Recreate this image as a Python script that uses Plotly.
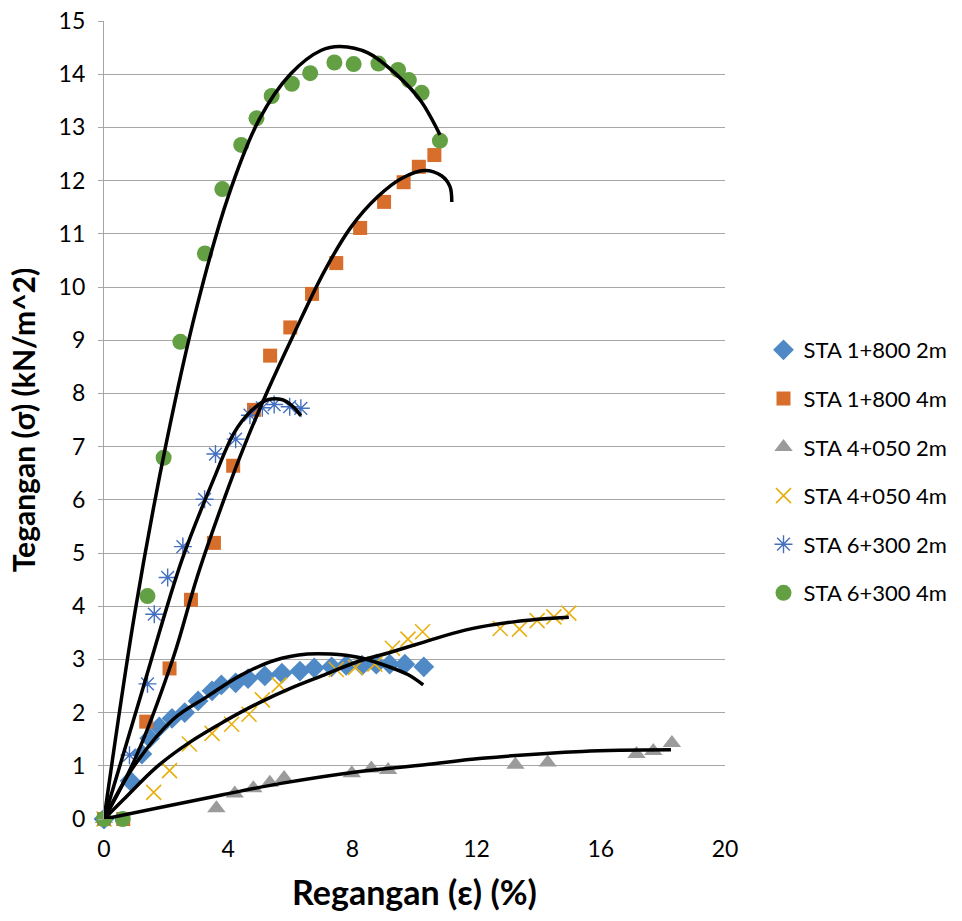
import plotly.graph_objects as go

# ---- data ----
names = ["STA 1+800 2m", "STA 1+800 4m", "STA 4+050 2m", "STA 4+050 4m", "STA 6+300 2m", "STA 6+300 4m"]

d1_x = [0, 0.84, 1.22, 1.47, 1.78, 2.19, 2.60, 3.03, 3.48, 3.78, 4.24, 4.64, 5.18, 5.73, 6.31, 6.77, 7.33, 7.80, 8.31, 8.77, 9.20, 9.69, 10.30]
d1_y = [0, 0.72, 1.22, 1.52, 1.73, 1.89, 2.00, 2.22, 2.41, 2.52, 2.56, 2.64, 2.69, 2.74, 2.78, 2.84, 2.86, 2.89, 2.89, 2.91, 2.91, 2.91, 2.86]

d2_x = [0, 0.62, 1.36, 2.11, 2.80, 3.54, 4.16, 4.83, 5.35, 6.00, 6.70, 7.48, 8.25, 9.02, 9.65, 10.14, 10.64]
d2_y = [0, 0, 1.83, 2.83, 4.12, 5.19, 6.64, 7.69, 8.71, 9.24, 9.87, 10.45, 11.11, 11.60, 11.97, 12.26, 12.48]

d3_x = [0, 3.62, 4.21, 4.81, 5.34, 5.80, 7.98, 8.61, 9.15, 13.25, 14.29, 17.15, 17.69, 18.29]
d3_y = [0, 0.20, 0.48, 0.58, 0.68, 0.77, 0.86, 0.95, 0.92, 1.02, 1.06, 1.22, 1.28, 1.43]

d4_x = [0, 1.60, 2.11, 2.75, 3.48, 4.11, 4.67, 5.10, 5.64, 7.48, 8.10, 8.72, 9.29, 9.79, 10.26, 12.76, 13.38, 13.95, 14.49, 14.97]
d4_y = [0, 0.50, 0.91, 1.41, 1.61, 1.78, 1.97, 2.24, 2.52, 2.81, 2.85, 2.91, 3.21, 3.38, 3.52, 3.58, 3.57, 3.73, 3.80, 3.87]

d5_x = [0, 0.82, 1.40, 1.62, 2.05, 2.54, 3.24, 3.59, 4.24, 4.70, 5.10, 5.48, 5.98, 6.34]
d5_y = [0, 1.20, 2.54, 3.85, 4.54, 5.12, 6.01, 6.86, 7.14, 7.59, 7.73, 7.79, 7.75, 7.72]

d6_x = [0, 0.60, 1.40, 1.92, 2.46, 3.25, 3.81, 4.42, 4.91, 5.40, 6.05, 6.64, 7.42, 8.04, 8.84, 9.47, 9.82, 10.23, 10.82]
d6_y = [0, 0, 4.19, 6.79, 8.97, 10.63, 11.84, 12.67, 13.17, 13.59, 13.82, 14.02, 14.22, 14.19, 14.20, 14.08, 13.89, 13.65, 12.75]

# trendlines
t1_x = [0, 0.95, 2.24, 3.32, 4.40, 5.48, 6.56, 7.31, 8.18, 9.04, 9.80, 10.28]
t1_y = [0, 0.98, 1.88, 2.30, 2.70, 2.98, 3.10, 3.10, 3.04, 2.89, 2.71, 2.52]

t2_x = [0, 1.00, 2.24, 3.00, 3.86, 4.51, 5.27, 6.10, 7.10, 7.96, 8.82, 9.58, 10.33, 10.87, 11.14, 11.20]
t2_y = [0, 1.13, 3.05, 4.55, 6.00, 7.00, 8.05, 9.10, 10.30, 11.13, 11.70, 12.04, 12.19, 12.09, 11.89, 11.60]

t3_x = [0, 2.00, 3.86, 5.70, 8.18, 10.33, 12.17, 15.40, 18.26]
t3_y = [0, 0.24, 0.46, 0.67, 0.89, 1.02, 1.14, 1.27, 1.30]

t4_x = [0, 0.62, 1.70, 2.78, 3.86, 4.94, 6.02, 7.10, 8.18, 9.26, 10.33, 11.63, 13.25, 14.97]
t4_y = [0, 0.36, 0.98, 1.45, 1.83, 2.17, 2.46, 2.71, 2.96, 3.14, 3.33, 3.55, 3.71, 3.79]

t5_x = [0, 1.25, 2.51, 3.59, 4.18, 4.72, 5.27, 5.75, 6.07, 6.34]
t5_y = [0, 2.45, 4.87, 6.47, 7.25, 7.66, 7.88, 7.88, 7.76, 7.58]

t6_x = [0, 1.0, 2.0, 3.0, 4.0, 5.0, 6.0, 7.0, 7.6, 8.5, 9.5, 10.2, 10.82]
t6_y = [0, 3.9, 7.05, 9.65, 11.7, 13.15, 14.0, 14.45, 14.52, 14.4, 13.95, 13.5, 12.86]

x_ticks = [0, 4, 8, 12, 16, 20]
y_ticks = list(range(0, 16))

FONT = "Lato"
colors = ["#4F89C6", "#D86E2B", "#9B9B9B", "#E8B00F", "#4470C0", "#62A043"]
series = [(d1_x, d1_y), (d2_x, d2_y), (d3_x, d3_y), (d4_x, d4_y), (d5_x, d5_y), (d6_x, d6_y)]
trends = [(t1_x, t1_y), (t2_x, t2_y), (t3_x, t3_y), (t4_x, t4_y), (t5_x, t5_y), (t6_x, t6_y)]

markers = [
    dict(symbol="diamond", size=16, color=colors[0]),
    dict(symbol="square", size=14, color=colors[1]),
    dict(symbol="triangle-up", size=16, color=colors[2]),
    dict(symbol="x-thin-open", size=15, color=colors[3], line=dict(color=colors[3], width=1.6)),
    dict(symbol="asterisk-open", size=15, color=colors[4], line=dict(color=colors[4], width=1.4)),
    dict(symbol="circle", size=16, color=colors[5]),
]

fig = go.Figure()
for i, ((xs, ys), name) in enumerate(zip(series, names)):
    fig.add_trace(go.Scatter(x=xs, y=ys, mode="markers", name=name, marker=markers[i],
                             legendgroup=name, cliponaxis=False))
for (xs, ys) in trends:
    fig.add_trace(go.Scatter(x=xs, y=ys, mode="lines", line=dict(color="black", width=3.5, shape="spline"),
                             showlegend=False, hoverinfo="skip"))

fig.update_layout(
    width=962, height=921,
    margin=dict(l=104, r=237, t=21, b=102, autoexpand=False),
    paper_bgcolor="white", plot_bgcolor="white",
    font=dict(family=FONT, size=23, color="black"),
    showlegend=True,
    legend=dict(x=1.062, y=0.614, xanchor="left", yanchor="top", tracegroupgap=17,
                itemwidth=30,
                font=dict(family=FONT, size=22, color="black"), itemsizing="trace",
                bgcolor="rgba(0,0,0,0)"),
    xaxis=dict(range=[0, 20], tickvals=x_ticks, showgrid=False, zeroline=False, automargin=False,
               showline=False, ticks="", ticklabelstandoff=14,
               tickfont=dict(family=FONT, size=23),
               title=dict(text="<b>Regangan (ε) (%)</b>", font=dict(family=FONT, size=34), standoff=20)),
    yaxis=dict(range=[0, 15], tickvals=y_ticks, showgrid=True, gridcolor="#A6A6A6", gridwidth=1.3,
               automargin=False,
               zeroline=False, showline=True, linecolor="#A6A6A6", linewidth=1.3,
               ticks="outside", ticklen=5, tickcolor="#A6A6A6", ticklabelstandoff=8,
               tickfont=dict(family=FONT, size=23),
               title=dict(text="<b>Tegangan (σ) (kN/m^2)</b>", font=dict(family=FONT, size=30), standoff=14)),
)
fig.write_html("out.html")
